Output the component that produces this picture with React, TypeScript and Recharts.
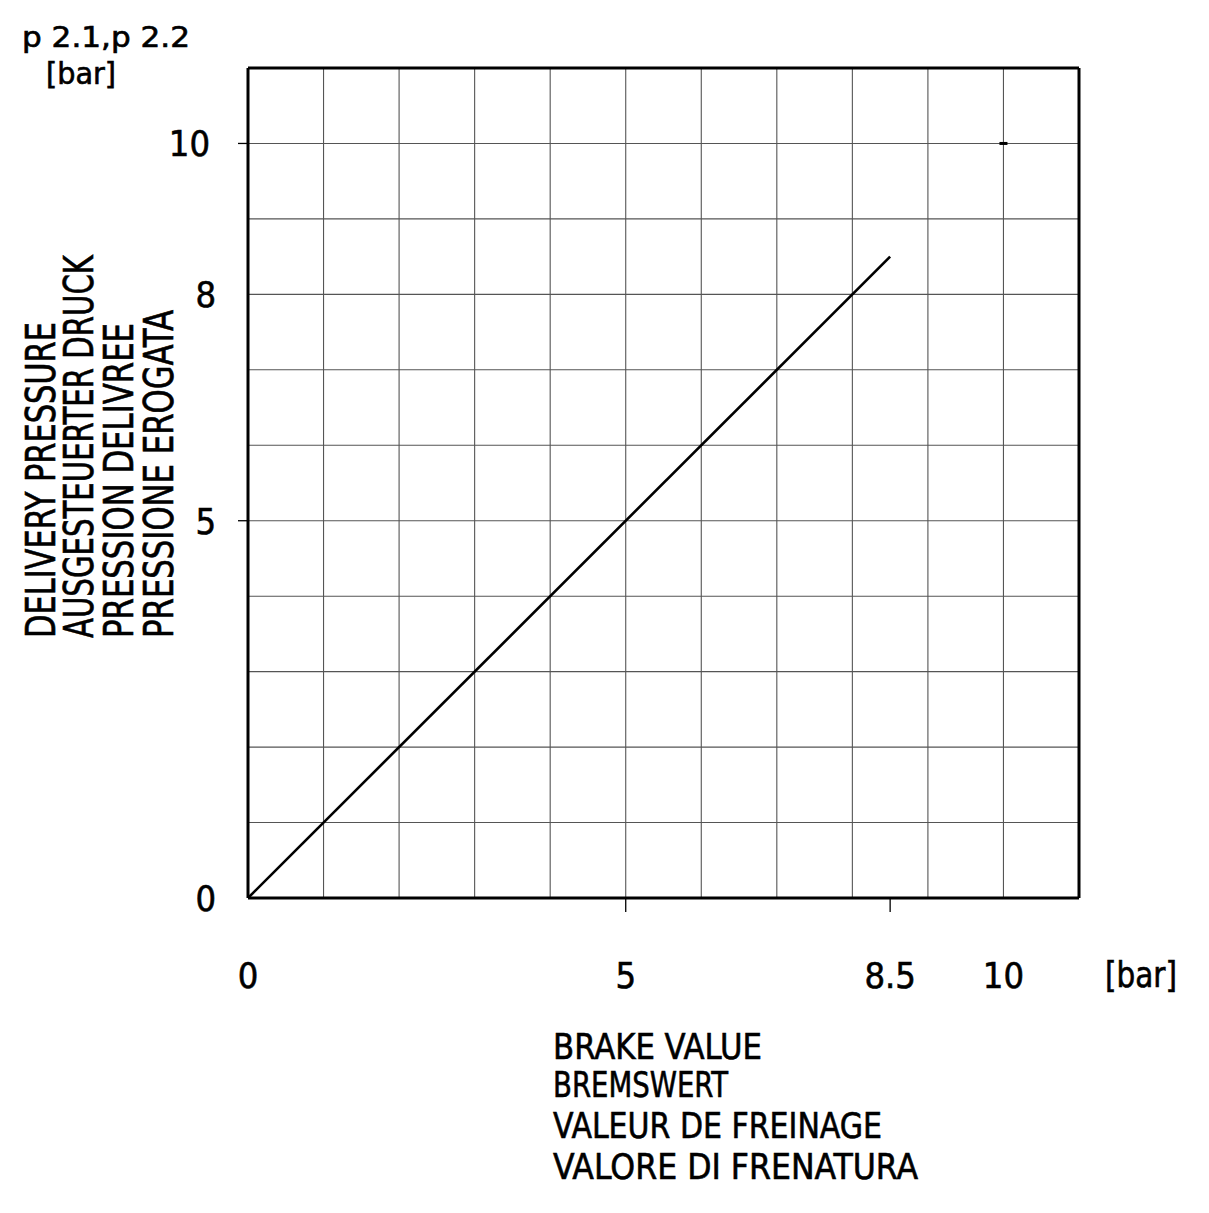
import React from 'react';
import { ComposedChart, Line, XAxis, YAxis, ReferenceLine, Scatter } from 'recharts';

// brake value (input) vs delivery pressure (output), both in bar
const brakeValue = [0, 8.5];
const deliveryPressure = [0, 8.5];

const xTicks = [0, 5, 8.5, 10];
const yTicks = [0, 5, 8, 10];
const xTickMarks = [5, 8.5];
const yTickMarks = [5, 10];
const gridValues = [1, 2, 3, 4, 5, 6, 7, 8, 9, 10];
const markX = [10];
const markY = [10];

const yTitle = ['DELIVERY PRESSURE', 'AUSGESTEUERTER DRUCK', 'PRESSION DELIVREE', 'PRESSIONE EROGATA'];
const xTitle = ['BRAKE VALUE', 'BREMSWERT', 'VALEUR DE FREINAGE', 'VALORE DI FRENATURA'];

const lineData = brakeValue.map((x, i) => ({ x, y: deliveryPressure[i] }));
const markData = markX.map((x, i) => ({ x, y: markY[i] }));

const FONT = '"Liberation Sans Narrow", "DejaVu Sans Condensed", "Roboto", sans-serif';
// thin outline to get closer to the heavier plotter strokes
const INK = { fill: '#000', stroke: '#000', strokeWidth: 0.6 };

const XTick = (props: any) => {
  const { x, y, payload } = props;
  const v = payload.value;
  return (
    <g>
      {xTickMarks.includes(v) && <line x1={x} x2={x} y1={y} y2={y + 14} stroke="#000" strokeWidth={1.3} />}
      <text x={x} y={y + 90} textAnchor="middle" fontSize={36} fontFamily={FONT} {...INK}>
        {v}
      </text>
    </g>
  );
};

const YTick = (props: any) => {
  const { x, y, payload } = props;
  const v = payload.value;
  return (
    <g>
      {yTickMarks.includes(v) && <line x1={x - 10} x2={x} y1={y} y2={y} stroke="#000" strokeWidth={1.3} />}
      <text x={v === 10 ? x - 38 : x - 32} y={y + 13} textAnchor="end" fontSize={36} fontFamily={FONT} {...INK}>
        {v}
      </text>
    </g>
  );
};

const yTitleBase = [55, 93, 133, 173];
const yTitleLen = [316, 383, 315, 328];
const xTitleBase = [1059, 1097, 1138, 1179];
const xTitleLen = [209, 175, 329, 365];

const App: React.FC = () => {
  return (
    <div style={{ position: 'absolute', left: 0, top: 0, background: '#fff' }}>
      <ComposedChart
        width={1209}
        height={1213}
        data={lineData}
        margin={{ top: 68, right: 130, bottom: 0, left: 0 }}
      >
        {gridValues.map((v) => (
          <ReferenceLine key={'gx' + v} x={v} stroke="#555" strokeWidth={1.1} />
        ))}
        {gridValues.map((v) => (
          <ReferenceLine key={'gy' + v} y={v} stroke="#555" strokeWidth={1.1} />
        ))}
        <ReferenceLine x={11} stroke="#000" strokeWidth={3} />
        <ReferenceLine y={11} stroke="#000" strokeWidth={3} />
        <XAxis
          type="number"
          dataKey="x"
          domain={[0, 11]}
          ticks={xTicks}
          interval={0}
          height={315}
          tickSize={0}
          tickMargin={0}
          tickLine={false}
          axisLine={{ stroke: '#000', strokeWidth: 3 }}
          tick={<XTick />}
        />
        <YAxis
          type="number"
          domain={[0, 11]}
          ticks={yTicks}
          interval={0}
          width={248}
          tickSize={0}
          tickMargin={0}
          tickLine={false}
          axisLine={{ stroke: '#000', strokeWidth: 3 }}
          tick={<YTick />}
        />
        <Line
          type="linear"
          dataKey="y"
          stroke="#000"
          strokeWidth={2.6}
          dot={false}
          isAnimationActive={false}
        />
        <Scatter
          data={markData}
          dataKey="y"
          isAnimationActive={false}
          shape={(p: any) => <rect x={p.cx - 4} y={p.cy - 1.5} width={8} height={3} fill="#000" />}
        />
        {yTitle.map((t, i) => (
          <text
            key={t}
            transform={`translate(${yTitleBase[i]},638) rotate(-90)`}
            x={0}
            y={0}
            fontSize={40}
            fontFamily={FONT}
            textLength={yTitleLen[i]}
            lengthAdjust="spacingAndGlyphs"
            {...INK}
          >
            {t}
          </text>
        ))}
        {xTitle.map((t, i) => (
          <text
            key={t}
            x={553}
            y={xTitleBase[i]}
            fontSize={36}
            fontFamily={FONT}
            textLength={xTitleLen[i]}
            lengthAdjust="spacingAndGlyphs"
            {...INK}
          >
            {t}
          </text>
        ))}
        <text x={22} y={47} fontSize={28} fontFamily={FONT} textLength={168} lengthAdjust="spacingAndGlyphs" {...INK}>
          p 2.1,p 2.2
        </text>
        <text x={46} y={84} fontSize={30} fontFamily={FONT} textLength={70} lengthAdjust="spacingAndGlyphs" {...INK}>
          [bar]
        </text>
        <text x={1105} y={987} fontSize={36} fontFamily={FONT} textLength={72} lengthAdjust="spacingAndGlyphs" {...INK}>
          [bar]
        </text>
      </ComposedChart>
    </div>
  );
};

export default App;
